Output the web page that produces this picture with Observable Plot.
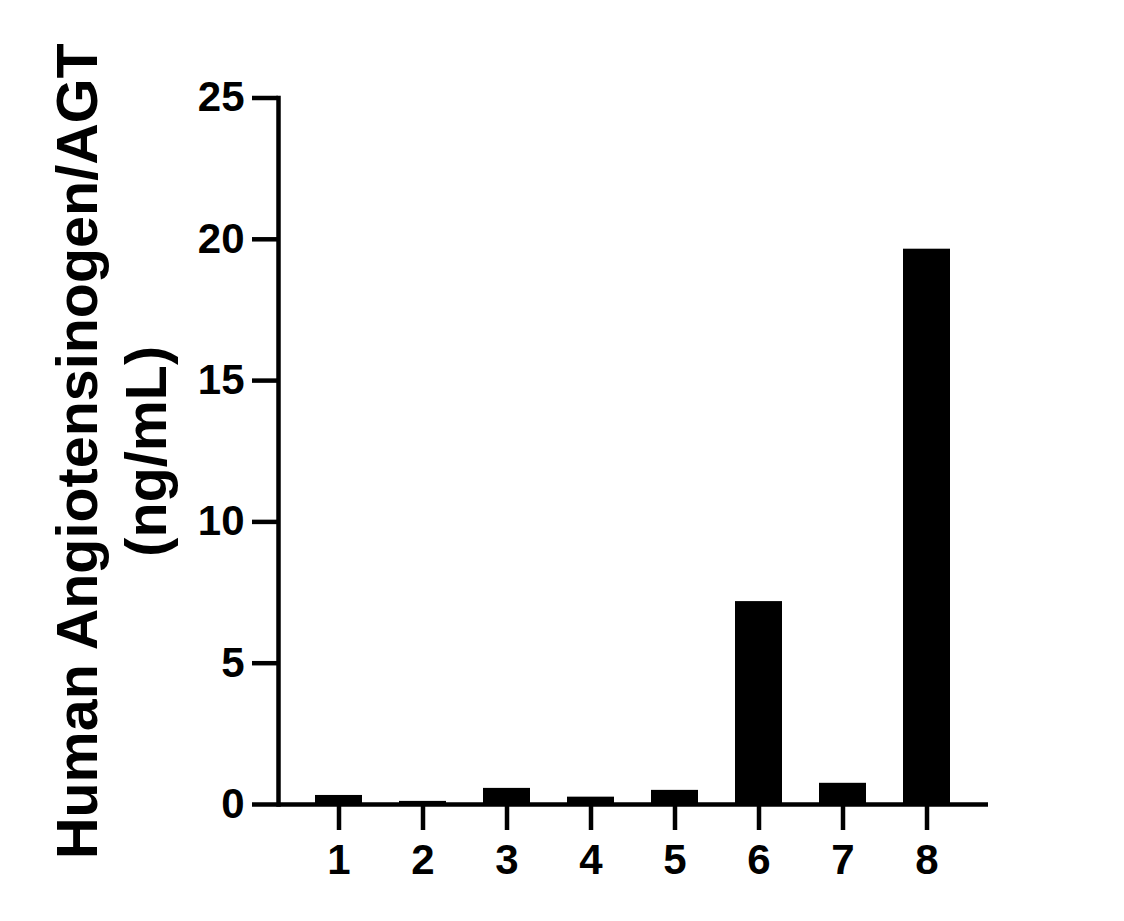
<!DOCTYPE html>
<html><head><meta charset="utf-8">
<script src="https://cdn.jsdelivr.net/npm/d3@7"></script>
<script src="https://cdn.jsdelivr.net/npm/@observablehq/plot@0.6"></script>
<style>body{margin:0;background:#fff}</style>
</head><body><div id="chart"></div>
<script>
const categories = ["1","2","3","4","5","6","7","8"];
const values = [0.32, 0.11, 0.57, 0.26, 0.50, 7.18, 0.75, 19.65];
const yTicks = [0, 5, 10, 15, 20, 25];
const yTitle = ["Human Angiotensinogen/AGT", "(ng/mL)"];

const data = categories.map((c, i) => ({category: c, value: values[i]}));

const chart = Plot.plot({
  width: 1124, height: 921,
  marginLeft: 278, marginRight: 136, marginTop: 97.5, marginBottom: 117,
  style: {fontFamily: "Arial, 'Liberation Sans', sans-serif", fontWeight: "bold", background: "#fff", color: "#000"},
  x: {domain: categories, paddingInner: 0.44, paddingOuter: 0.446},
  y: {domain: [0, 25]},
  marks: [
    Plot.barY(data, {x: "category", y: "value", fill: "#000"}),
    Plot.ruleY([0], {stroke: "#000", strokeWidth: 4.5}),
    Plot.frame({anchor: "left", stroke: "#000", strokeWidth: 4.5}),
    Plot.axisY(yTicks, {tickSize: 26, tickPadding: 8, fontSize: 42, fontWeight: "bold", strokeWidth: 4.5, label: null}),
    Plot.axisX({tickSize: 26, tickPadding: 14, fontSize: 42, fontWeight: "bold", strokeWidth: 4.5, label: null}),
    Plot.text([yTitle.join("\n")], {frameAnchor: "left", rotate: -90, dx: -113, text: d => d, textAnchor: "middle", fontSize: 57.5, fontWeight: "bold", lineAnchor: "bottom", lineHeight: 1.2, fill: "#000"})
  ]
});
document.getElementById("chart").appendChild(chart);
</script>
</body></html>
